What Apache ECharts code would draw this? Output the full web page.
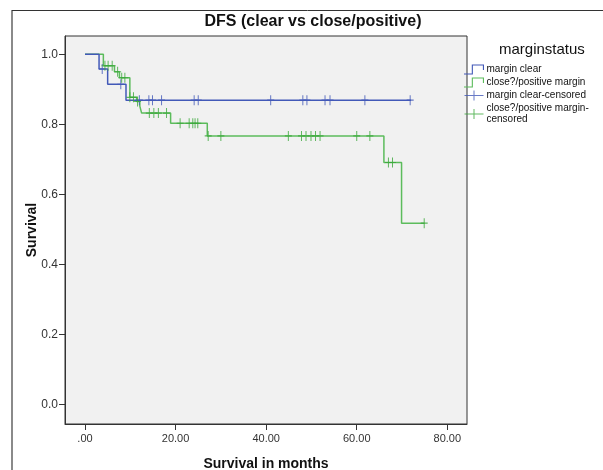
<!DOCTYPE html>
<html>
<head>
<meta charset="utf-8">
<script src="https://cdn.jsdelivr.net/npm/echarts@6/dist/echarts.min.js"></script>
<style>
  html, body { margin: 0; padding: 0; background: #fff; }
  #main { width: 603px; height: 470px; }
</style>
</head>
<body>
<div id="main"></div>
<script>
// KM steps: time of event, survival after it
const clearTimes = [0, 3.1, 5.0, 9.05, 72];
const clearSurv = [1.0, 0.958, 0.914, 0.869, 0.869];
const clearCensored = [3.8, 7.9, 12.0, 14.1, 14.9, 16.9, 24.1, 25.0, 41.0, 48.1, 49.0, 53.0, 54.1, 61.8, 71.8];

const closeTimes = [0, 4.05, 6.5, 7.6, 9.9, 11.4, 12.1, 12.5, 18.9, 27.0, 66.0, 69.9, 75];
const closeSurv = [1.0, 0.967, 0.950, 0.933, 0.877, 0.865, 0.852, 0.832, 0.803, 0.767, 0.691, 0.518, 0.518];
const closeCensored = [4.4, 5.1, 6.0, 7.2, 8.1, 8.8, 9.9, 10.7, 11.6, 14.2, 15.2, 16.2, 18.0,
  21.0, 23.0, 23.8, 24.3, 24.9, 27.2, 30.0, 44.9, 47.8, 48.8, 49.9, 50.9, 51.9, 60.0, 62.9,
  67.0, 67.9, 74.9];

const xTicks = [0, 20, 40, 60, 80];
const xTickLabels = ['.00', '20.00', '40.00', '60.00', '80.00'];
const yTicks = [0, 0.2, 0.4, 0.6, 0.8, 1.0];
const yTickLabels = ['0.0', '0.2', '0.4', '0.6', '0.8', '1.0'];

const seriesNames = ['margin clear', 'close?/positive margin', 'margin clear-censored', 'close?/positive margin-censored'];

const blue = '#4259b8';
const green = '#5cbc5c';
const greenTick = '#3aa83a';

function steps(times, surv) {
    return times.map((t, i) => [t, surv[i]])
}
function censorPoints(times, surv, cens) {
    return cens.map(c => {
        let s = surv[0]
        times.forEach((t, i) => { if (t <= c) s = surv[i] })
        return [c, s]
    })
}

const stepIcon = 'path://M0,9h7v-8h11v5h-1v-4h-9v8h-8z';
const plusIcon = 'path://M9,0h1v10h-1z M0,4.5h19v1h-19z';
const censorSymbol = 'path://M3,0h1v9h-1z M0,4h7v1h-7z';

const chart = echarts.init(document.getElementById('main'));
const option = {
    animation: false,
    title: {
        text: 'DFS (clear vs close/positive)',
        left: 308,
        textAlign: 'center',
        top: 9,
        textStyle: { fontFamily: 'Liberation Sans', fontSize: 16, fontWeight: 'bold', color: '#111' }
    },
    graphic: [
        { type: 'line', shape: { x1: 12, y1: 10, x2: 12, y2: 470 }, style: { stroke: '#8a8a8a', lineWidth: 2 } },
        { type: 'line', shape: { x1: 12, y1: 10.5, x2: 603, y2: 10.5 }, style: { stroke: '#333', lineWidth: 1 } },
        {
            type: 'text', left: 499, top: 42,
            style: { text: 'marginstatus', font: '15px "Liberation Sans"', fill: '#111' }
        }
    ],
    legend: {
        orient: 'vertical',
        left: 464,
        top: 64,
        padding: 0,
        itemWidth: 21,
        itemHeight: 10,
        itemGap: 2,
        textStyle: { fontFamily: 'Liberation Sans', fontSize: 10, color: '#111', lineHeight: 11, padding: [0, 0, 0, -3] },
        formatter: function (name) {
            return name === 'close?/positive margin-censored' ? 'close?/positive margin-\ncensored' : name
        },
        data: [
            { name: seriesNames[0], icon: stepIcon },
            { name: seriesNames[1], icon: stepIcon },
            { name: seriesNames[2], icon: plusIcon },
            { name: seriesNames[3], icon: plusIcon }
        ]
    },
    grid: {
        left: 65, right: 136, top: 36, bottom: 46,
        outerBoundsMode: 'none',
        show: true,
        backgroundColor: '#f1f1f1',
        borderColor: '#333',
        borderWidth: 1
    },
    xAxis: {
        type: 'value',
        min: -4.42,
        max: 84.35,
        name: 'Survival in months',
        nameLocation: 'middle',
        nameGap: 33,
        nameMoveOverlap: false,
        nameTextStyle: { fontFamily: 'Liberation Sans', fontSize: 14, fontWeight: 'bold', color: '#111' },
        axisLine: { onZero: false, lineStyle: { color: '#333' } },
        axisTick: { show: true, length: 6, customValues: xTicks, lineStyle: { color: '#333' } },
        axisLabel: {
            customValues: xTicks,
            fontFamily: 'Liberation Sans', fontSize: 11, color: '#333', margin: 9,
            formatter: v => xTickLabels[xTicks.indexOf(Math.round(v))]
        },
        splitLine: { show: false }
    },
    yAxis: {
        type: 'value',
        min: -0.055,
        max: 1.052,
        name: 'Survival',
        nameLocation: 'middle',
        nameGap: 26,
        nameMoveOverlap: false,
        nameRotate: 90,
        nameTextStyle: { fontFamily: 'Liberation Sans', fontSize: 14, fontWeight: 'bold', color: '#111' },
        axisLine: { show: true, onZero: false, lineStyle: { color: '#333' } },
        axisTick: { show: true, length: 6, customValues: yTicks, lineStyle: { color: '#333' } },
        axisLabel: {
            customValues: yTicks,
            fontFamily: 'Liberation Sans', fontSize: 12, color: '#333', margin: 7,
            formatter: v => yTickLabels[yTicks.indexOf(Math.round(v * 10) / 10)]
        },
        splitLine: { show: false }
    },
    series: [
        {
            name: seriesNames[0], type: 'line', step: 'end', showSymbol: false,
            color: blue, lineStyle: { color: blue, width: 1.5 },
            data: steps(clearTimes, clearSurv), z: 3
        },
        {
            name: seriesNames[1], type: 'line', step: 'end', showSymbol: false,
            color: green, lineStyle: { color: green, width: 1.5 },
            data: steps(closeTimes, closeSurv), z: 2
        },
        {
            name: seriesNames[2], type: 'scatter', symbol: censorSymbol, symbolSize: [7, 10],
            color: blue, itemStyle: { color: blue },
            data: censorPoints(clearTimes, clearSurv, clearCensored), z: 4
        },
        {
            name: seriesNames[3], type: 'scatter', symbol: censorSymbol, symbolSize: [7, 10],
            color: greenTick, itemStyle: { color: greenTick },
            data: censorPoints(closeTimes, closeSurv, closeCensored), z: 4
        }
    ]
};
chart.setOption(option);
</script>
</body>
</html>
